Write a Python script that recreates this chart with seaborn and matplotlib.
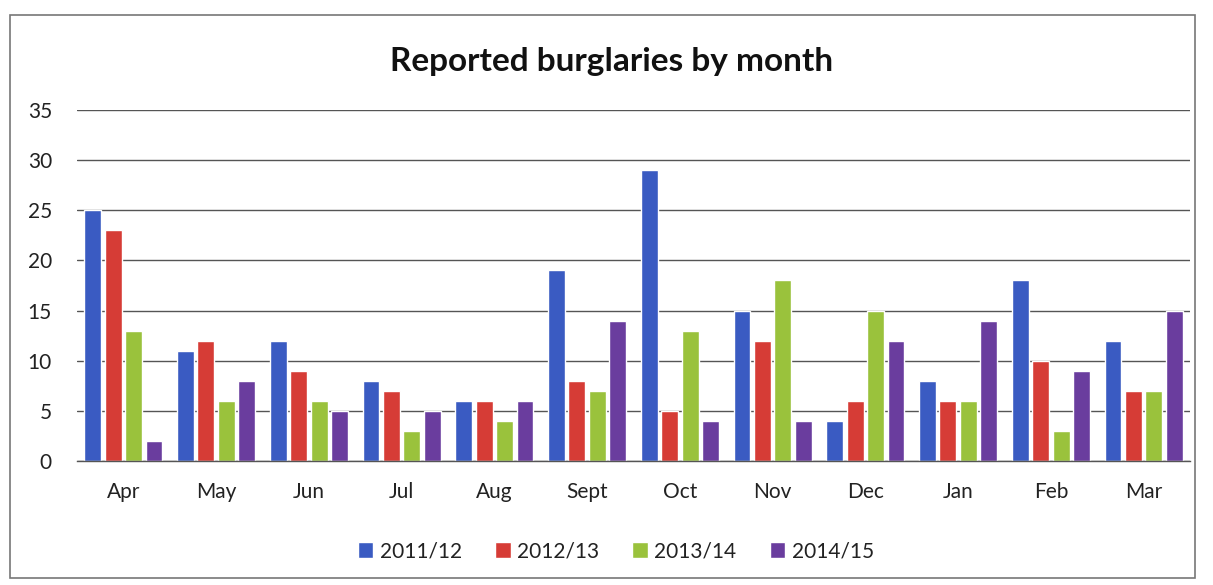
import matplotlib
matplotlib.use("Agg")
import matplotlib.pyplot as plt
import seaborn as sns
import pandas as pd
from matplotlib.patches import Rectangle

months = ["Apr", "May", "Jun", "Jul", "Aug", "Sept", "Oct", "Nov", "Dec", "Jan", "Feb", "Mar"]
series_names = ["2011/12", "2012/13", "2013/14", "2014/15"]
v_2011_12 = [25, 11, 12, 8, 6, 19, 29, 15, 4, 8, 18, 12]
v_2012_13 = [23, 12, 9, 7, 6, 8, 5, 12, 6, 6, 10, 7]
v_2013_14 = [13, 6, 6, 3, 4, 7, 13, 18, 15, 6, 3, 7]
v_2014_15 = [2, 8, 5, 5, 6, 14, 4, 4, 12, 14, 9, 15]
yticks = [0, 5, 10, 15, 20, 25, 30, 35]

colors = ["#3A5BC2", "#D63C36", "#9AC23C", "#6A3D9E"]

rows = []
for name, vals in zip(series_names, [v_2011_12, v_2012_13, v_2013_14, v_2014_15]):
    for m, v in zip(months, vals):
        rows.append({"Month": m, "Year": name, "Value": v})
df = pd.DataFrame(rows)

sns.set_theme(style="white")
plt.rcParams["font.family"] = ["Lato", "DejaVu Sans"]

fig = plt.figure(figsize=(12.13, 5.85), dpi=100)
ax = fig.add_axes([77 / 1213, 1 - 461 / 585, (1190 - 77) / 1213, (461 - 110) / 585])

sns.barplot(data=df, x="Month", y="Value", hue="Year", order=months,
            hue_order=series_names, palette=colors, width=0.88, gap=0.17,
            saturation=1, ax=ax, legend=True)

ax.set_ylim(0, 35)
ax.set_yticks(yticks)
ax.set_xlim(-0.5, len(months) - 0.5)
ax.yaxis.grid(True, color="#555555", linewidth=1.0)
ax.set_axisbelow(True)
ax.set_xlabel("")
ax.set_ylabel("")
for s in ["top", "right", "left"]:
    ax.spines[s].set_visible(False)
ax.spines["bottom"].set_color("#555555")
ax.spines["bottom"].set_linewidth(1.0)
ax.tick_params(axis="x", labelsize=15, colors="#222222", pad=15, length=0)
ax.tick_params(axis="y", labelsize=15, colors="#222222", pad=18, length=0)

leg = ax.legend(loc="upper center", bbox_to_anchor=(0.484, -0.175), ncol=4, frameon=False,
                fontsize=15, handlelength=0.75, handleheight=0.75, handletextpad=0.3,
                columnspacing=1.6)
for t in leg.get_texts():
    t.set_color("#222222")

fig.text(612 / 1213, 1 - 61 / 585, "Reported burglaries by month", ha="center", va="center",
         fontsize=24, fontweight="bold", color="#111111")

fig.patches.append(Rectangle((10 / 1213, 1 - 578 / 585), 1185 / 1213, 563 / 585,
                             transform=fig.transFigure, fill=False, edgecolor="#777777",
                             linewidth=1.2))

fig.savefig("out.png", dpi=100)
